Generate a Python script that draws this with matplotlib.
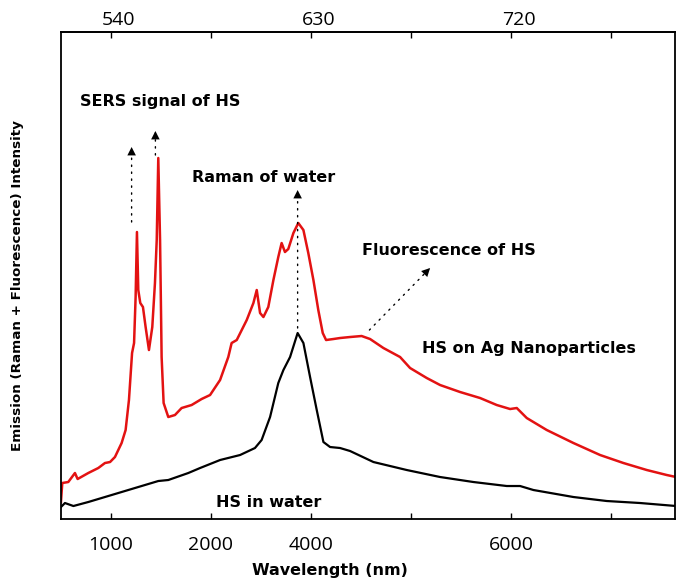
import numpy as np
import matplotlib.pyplot as plt
from matplotlib.transforms import ScaledTranslation

# HS on Ag nanoparticles (red) - wavelength (nm) and intensity (a.u.)
ag_nm = [517.5, 518.1, 520.8, 523.8, 525.0, 529.8, 534.3, 537.3, 539.6, 541.8,
         544.8, 546.6, 548.1, 549.5, 550.4, 551.1, 551.7, 552.3, 553.2, 554.4,
         555.6, 557.1, 558.6, 559.8, 560.6, 561.3, 562.1, 562.8, 563.7, 565.8,
         568.8, 571.8, 576.3, 580.8, 584.6, 589.1, 592.8, 594.3, 596.6, 601.1,
         604.1, 605.6, 607.1, 608.6, 610.8, 613.1, 615.3, 616.8, 618.3, 619.8,
         622.1, 624.3, 626.6, 628.8, 631.1, 633.3, 635.3, 636.8, 640.1, 643.1,
         647.6, 652.8, 656.6, 662.6, 670.1, 674.6, 682.1, 688.1, 697.1, 706.1,
         713.6, 719.6, 722.6, 727.1, 736.1, 748.1, 760.1, 770.6, 781.1, 790.1,
         794.3]
ag_int = [17, 36, 37, 46, 40, 46, 51, 56, 57, 62,
          76, 89, 119, 166, 176, 222, 287, 229, 216, 212,
          192, 169, 192, 236, 279, 361, 279, 162, 116, 102,
          104, 111, 114, 120, 124, 139, 162, 176, 179, 199,
          216, 229, 206, 202, 212, 239, 262, 276, 267, 270,
          286, 296, 289, 266, 239, 209, 186, 179, 180, 181,
          182, 183, 180, 171, 162, 151, 141, 134, 127, 121,
          114, 110, 111, 101, 89, 76, 64, 56, 49, 44,
          42]

# HS in water (black)
w_nm = [517.5, 519.3, 523.1, 529.8, 540.3, 550.8, 561.3, 565.8, 574.8, 580.1,
        589.1, 598.1, 604.8, 607.8, 611.6, 615.3, 617.6, 620.6, 624.0, 626.6,
        629.6, 632.6, 635.6, 638.6, 643.1, 647.6, 658.1, 673.1, 688.1, 703.1,
        718.1, 724.1, 730.1, 748.1, 763.1, 778.1, 794.3]
w_int = [12, 16, 13, 17, 24, 31, 38, 39, 46, 51,
         59, 64, 71, 79, 102, 136, 149, 162, 186, 176,
         142, 109, 77, 72, 71, 68, 57, 49, 42, 37,
         33, 33, 29, 22, 18, 16, 13]

tick_pos = [540, 585, 630, 675, 720, 765]
bottom_labels = ['1000', '2000', '4000', '', '6000', '']
top_labels = ['540', '', '630', '', '720', '']

bold = dict(family='DejaVu Sans', fontweight='bold', fontsize=11.5)

fig = plt.figure(figsize=(6.76, 5.79), dpi=100)
ax = fig.add_axes([0.0895, 0.1036, 0.909, 0.8411])

ax.plot(ag_nm, ag_int, color='#e31212', lw=1.8)
ax.plot(w_nm, w_int, color='black', lw=1.6)

ax.set_xlim(517.3, 793.8)
ax.set_ylim(0, 487)
ax.set_yticks([])

ax.set_xticks(tick_pos)
ax.set_xticklabels(bottom_labels, family='Open Sans', fontsize=14)
ax.tick_params(axis='x', direction='in', length=4, width=1, pad=12)

top = ax.secondary_xaxis('top')
top.set_xticks(tick_pos)
top.set_xticklabels(top_labels, family='Open Sans', fontsize=14)
top.tick_params(axis='x', direction='in', length=4, width=1, pad=2)
shift = ScaledTranslation(8 / 100, 0, fig.dpi_scale_trans)
for lab in top.get_xticklabels():
    lab.set_transform(lab.get_transform() + shift)

for sp in ax.spines.values():
    sp.set_linewidth(1.3)
top.spines['top'].set_linewidth(1.3)

ax.set_xlabel('Wavelength (nm)', **bold)
ax.xaxis.set_label_coords(0.4386, -0.09)
ax.set_ylabel('Emission (Raman + Fluorescence) Intensity',
              family='DejaVu Sans', fontweight='bold', fontsize=9.7)
ax.yaxis.set_label_coords(-0.059, 0.48)

# annotations: dotted shaft + solid filled head
arrows = [((549.3, 297), (549.3, 372)),
          ((560.0, 364), (560.0, 388)),
          ((624.0, 191), (624.0, 329)),
          ((656.3, 189), (683.6, 251))]
for start, tip in arrows:
    ax.annotate('', xy=tip, xytext=start,
                arrowprops=dict(arrowstyle='-', linestyle=(0, (1, 4)), lw=1.0,
                                color='black', shrinkA=0, shrinkB=0))
    ax.annotate('', xy=tip, xytext=start,
                arrowprops=dict(arrowstyle='-|>,head_length=0.55,head_width=0.28',
                                lw=0, color='black', mutation_scale=11,
                                shrinkA=0, shrinkB=0))

ax.text(526.1, 418, 'SERS signal of HS', ha='left', va='center', **bold)
ax.text(608.6, 342, 'Raman of water', ha='center', va='center', **bold)
ax.text(692.0, 269, 'Fluorescence of HS', ha='center', va='center', **bold)
ax.text(728.1, 171, 'HS on Ag Nanoparticles', ha='center', va='center', **bold)
ax.text(610.8, 17, 'HS in water', ha='center', va='center', **bold)

fig.savefig('out.png', dpi=100)
